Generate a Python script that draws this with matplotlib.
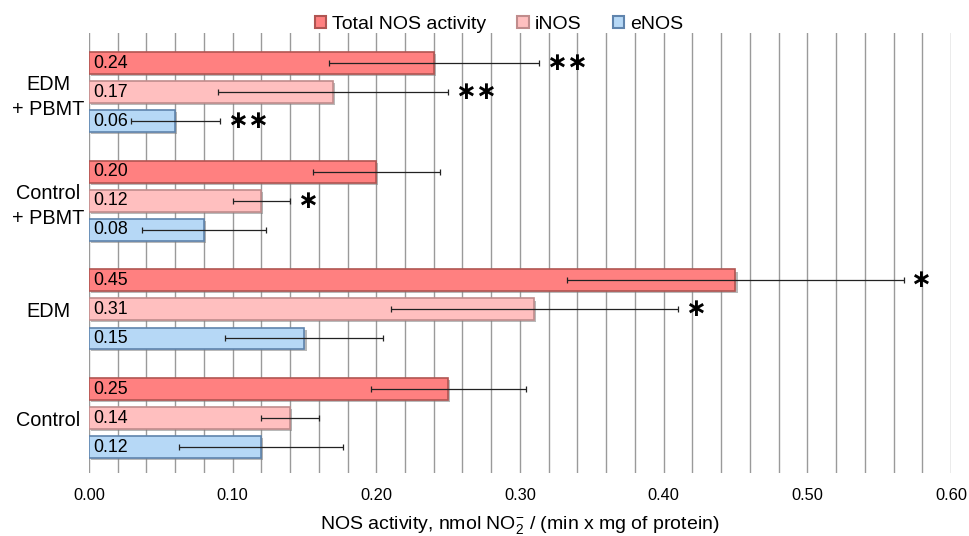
import matplotlib

matplotlib.use("Agg")
import matplotlib.pyplot as plt
import matplotlib.patheffects as pe
from matplotlib.patches import Patch
from matplotlib.ticker import MultipleLocator
import numpy as np

plt.rcParams["font.family"] = ["Liberation Sans", "DejaVu Sans"]
plt.rcParams["mathtext.fontset"] = "custom"
plt.rcParams["mathtext.rm"] = "Liberation Sans"
plt.rcParams["mathtext.it"] = "Liberation Sans:italic"

# groups listed bottom -> top
groups = ["Control", "EDM", "Control\n+ PBMT", "EDM\n+ PBMT"]
series = ["Total NOS activity", "iNOS", "eNOS"]

total = [0.25, 0.45, 0.20, 0.24]
inos = [0.14, 0.31, 0.12, 0.17]
enos = [0.12, 0.15, 0.08, 0.06]

total_err = [0.054, 0.117, 0.044, 0.073]
inos_err = [0.020, 0.100, 0.020, 0.080]
enos_err = [0.057, 0.055, 0.043, 0.031]

total_stars = ["", "*", "", "**"]
inos_stars = ["", "*", "*", "**"]
enos_stars = ["", "", "", "**"]

values = [total, inos, enos]
errors = [total_err, inos_err, enos_err]
stars = [total_stars, inos_stars, enos_stars]

fills = ["#ff8080", "#ffbfbf", "#b6d8f6"]
edges = ["#b05552", "#c08c8c", "#5f84ad"]
offsets = [0.267, 0.0, -0.267]
bar_h = 0.2

fig = plt.figure(figsize=(9.69, 5.36), dpi=100)
ax = fig.add_axes([0.0918, 0.1175, 0.8896, 0.8209])

y = np.arange(len(groups))
for vals, errs, stz, fc, ec, off in zip(values, errors, stars, fills, edges, offsets):
    bars = ax.barh(y + off, vals, height=bar_h, color=fc, edgecolor=ec, lw=1.2, zorder=3)
    for b in bars:
        b.set_path_effects([pe.SimplePatchShadow(offset=(1.5, -1.5), shadow_rgbFace="#808080", alpha=0.55),
                            pe.Normal()])
    ax.errorbar(vals, y + off, xerr=errs, fmt="none", ecolor="#222222", elinewidth=0.9,
                capsize=2.5, capthick=0.9, zorder=4)
    for yi, v, e, s in zip(y + off, vals, errs, stz):
        ax.text(0.003, yi, f"{v:.2f}", ha="left", va="center", fontsize=12.8, zorder=5)
        if s:
            ax.annotate(s.replace("*", "\u2217"), (v + e, yi), xytext=(5, 0), textcoords="offset points",
                        ha="left", va="center", fontsize=18, fontweight="bold",
                        family=["DejaVu Sans"], zorder=5)

ax.set_xlim(0, 0.6)
ax.set_ylim(-0.506, 3.543)
ax.xaxis.set_major_locator(MultipleLocator(0.1))
ax.xaxis.set_minor_locator(MultipleLocator(0.02))
ax.xaxis.set_major_formatter(lambda v, p: f"{v:.2f}")
ax.grid(True, axis="x", which="both", color="#9a9a9a", lw=1.0, zorder=0)
ax.tick_params(axis="x", which="both", length=0, labelsize=11.8, pad=11)
ax.set_yticks(y)
ax.set_yticklabels(groups, fontsize=14.3, ha="center", multialignment="center", linespacing=1.4)
ax.tick_params(axis="y", length=0, pad=29.5)
for sp in ax.spines.values():
    sp.set_visible(False)

ax.set_xlabel("NOS activity, nmol NO$_2^{-}$ / (min x mg of protein)", fontsize=14, labelpad=8)

handles = [Patch(facecolor=fc, edgecolor=ec, lw=1.5) for fc, ec in zip(fills, edges)]
fig.legend(handles, series, loc="center", bbox_to_anchor=(0.515, 0.955), ncol=3, frameon=False,
           fontsize=14, handlelength=0.6, handleheight=0.6, handletextpad=0.3, columnspacing=1.6)

fig.savefig("out.png", dpi=100)
